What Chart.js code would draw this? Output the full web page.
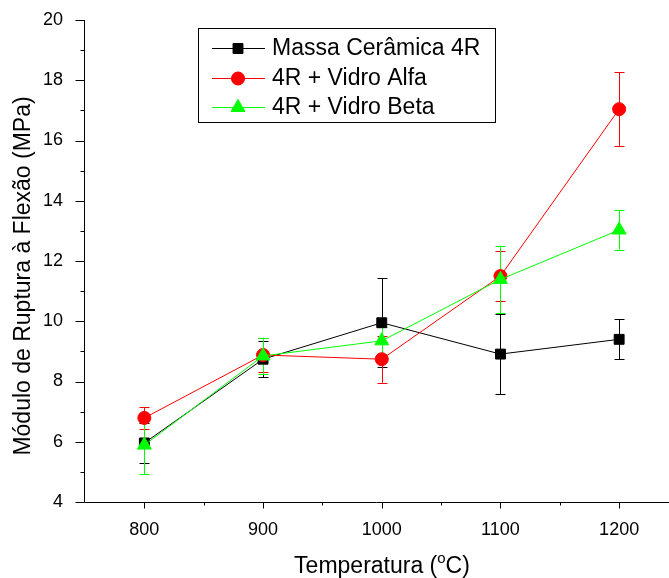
<!DOCTYPE html>
<html>
<head>
<meta charset="utf-8">
<script src="https://cdn.jsdelivr.net/npm/chart.js@4/dist/chart.umd.min.js"></script>
<style>
html,body{margin:0;padding:0;background:#fff;overflow:hidden;}
#wrap{width:669px;height:578px;}
</style>
</head>
<body>
<div id="wrap"><canvas id="c" width="669" height="578"></canvas></div>
<script>
const categories = [800, 900, 1000, 1100, 1200];
const massaValues = [5.96, 8.74, 9.95, 8.91, 9.40];
const massaErrors = [0.67, 0.60, 1.48, 1.33, 0.66];
const alfaValues = [6.79, 8.88, 8.74, 11.50, 17.04];
const alfaErrors = [0.36, 0.57, 0.78, 0.82, 1.22];
const betaValues = [5.89, 8.85, 9.35, 11.39, 13.03];
const betaErrors = [0.96, 0.60, 0.45, 1.12, 0.65];
const seriesLabels = ['Massa Cerâmica 4R', '4R + Vidro Alfa', '4R + Vidro Beta'];
const yTickValues = [4, 6, 8, 10, 12, 14, 16, 18, 20];
const yMinorValues = [5, 7, 9, 11, 13, 15, 17, 19];
const xMinorValues = [850, 950, 1050, 1150];
const xTitle = ['Temperatura (', 'o', 'C)'];
const yTitle = 'Módulo de Ruptura à Flexão (MPa)';

const FONT = '"Liberation Sans", Arial, sans-serif';
Chart.defaults.font.family = FONT;

function pts(vals){ return categories.map((x,i)=>({x:x,y:vals[i]})); }

const styles = [
  {color:'#000000', style:'rect', r:7},
  {color:'#ff0000', style:'circle', r:6.5},
  {color:'#00ff00', style:'triangle', r:8}
];
const errs = [massaErrors, alfaErrors, betaErrors];

const datasets = [massaValues, alfaValues, betaValues].map((v,i)=>({
  label: seriesLabels[i],
  data: pts(v),
  borderColor: styles[i].color,
  backgroundColor: styles[i].color,
  pointBackgroundColor: styles[i].color,
  pointBorderColor: styles[i].color,
  pointStyle: styles[i].style,
  pointRadius: styles[i].r,
  pointHoverRadius: styles[i].r,
  pointBorderWidth: 1,
  borderWidth: 1,
  tension: 0,
  fill: false,
  clip: false,
  order: 3 - i
}));

const errPlugin = {
  id: 'errbars',
  beforeDatasetsDraw(chart){
    const ctx = chart.ctx, xs = chart.scales.x, ys = chart.scales.y;
    ctx.save();
    ctx.lineWidth = 1;
    [0,1,2].forEach(i=>{
      ctx.strokeStyle = styles[i].color;
      chart.data.datasets[i].data.forEach((p,j)=>{
        const px = Math.round(xs.getPixelForValue(p.x)) + 0.5;
        const top = ys.getPixelForValue(p.y + errs[i][j]);
        const bot = ys.getPixelForValue(p.y - errs[i][j]);
        ctx.beginPath();
        ctx.moveTo(px, top); ctx.lineTo(px, bot);
        ctx.moveTo(px-5, Math.round(top)+0.5); ctx.lineTo(px+5, Math.round(top)+0.5);
        ctx.moveTo(px-5, Math.round(bot)+0.5); ctx.lineTo(px+5, Math.round(bot)+0.5);
        ctx.stroke();
      });
    });
    ctx.restore();
  }
};

const axesPlugin = {
  id: 'axesDeco',
  afterDraw(chart){
    const ctx = chart.ctx, xs = chart.scales.x, ys = chart.scales.y, a = chart.chartArea;
    ctx.save();
    ctx.strokeStyle = '#000'; ctx.lineWidth = 1;
    const L = Math.round(a.left) - 0.5, B = Math.round(a.bottom) + 0.5;
    ctx.beginPath();
    ctx.moveTo(L, a.top); ctx.lineTo(L, B);
    ctx.moveTo(L, B); ctx.lineTo(a.right, B);
    yTickValues.forEach(v=>{ const y = Math.round(ys.getPixelForValue(v))+0.5; ctx.moveTo(L-9, y); ctx.lineTo(L, y); });
    yMinorValues.forEach(v=>{ const y = Math.round(ys.getPixelForValue(v))+0.5; ctx.moveTo(L-4, y); ctx.lineTo(L, y); });
    categories.forEach(v=>{ const x = Math.round(xs.getPixelForValue(v))+0.5; ctx.moveTo(x, B); ctx.lineTo(x, B+6); });
    xMinorValues.forEach(v=>{ const x = Math.round(xs.getPixelForValue(v))+0.5; ctx.moveTo(x, B); ctx.lineTo(x, B+3); });
    ctx.stroke();

    // axis titles
    ctx.fillStyle = '#000';
    ctx.textBaseline = 'alphabetic';
    const f = '23px ' + FONT, fs = '15px ' + FONT;
    ctx.font = f;
    const w0 = ctx.measureText(xTitle[0]).width, w2 = ctx.measureText(xTitle[2]).width;
    ctx.font = fs;
    const w1 = ctx.measureText(xTitle[1]).width;
    const total = w0 + w1 + w2;
    let x0 = 382 - total/2;
    const by = 573;
    ctx.font = f; ctx.textAlign = 'left';
    ctx.fillText(xTitle[0], x0, by);
    ctx.font = fs; ctx.fillText(xTitle[1], x0 + w0, by - 10);
    ctx.font = f; ctx.fillText(xTitle[2], x0 + w0 + w1, by);

    ctx.save();
    ctx.translate(30, 276);
    ctx.rotate(-Math.PI/2);
    ctx.textAlign = 'center';
    ctx.font = f;
    ctx.fillText(yTitle, 0, 0);
    ctx.restore();

    // legend
    const bx = 198.5, byy = 28.5, bw = 297, bh = 94;
    ctx.strokeStyle = '#000';
    ctx.strokeRect(bx, byy, bw, bh);
    const rows = [48, 78, 107];
    chart.data.datasets.forEach((ds, i)=>{
      const y = rows[i];
      ctx.strokeStyle = ds.borderColor; ctx.lineWidth = 1;
      ctx.beginPath(); ctx.moveTo(212, y+0.5); ctx.lineTo(265, y+0.5); ctx.stroke();
      ctx.fillStyle = ds.pointBackgroundColor;
      Chart.helpers.drawPoint(ctx, {pointStyle: ds.pointStyle, radius: ds.pointRadius, borderWidth: 1}, 238, y+0.5);
      ctx.fill();
      ctx.fillStyle = '#000';
      ctx.font = f; ctx.textAlign = 'left'; ctx.textBaseline = 'middle';
      ctx.fillText(ds.label, 272, y + 1);
    });
    ctx.restore();
  }
};

new Chart(document.getElementById('c'), {
  type: 'line',
  data: { datasets: datasets },
  options: {
    responsive: false,
    animation: false,
    layout: { autoPadding: false, padding: { top: 20, right: 0, left: 0, bottom: 0 } },
    plugins: { legend: { display: false }, tooltip: { enabled: false } },
    scales: {
      x: {
        type: 'linear', min: 750, max: 1242,
        afterBuildTicks: s => { s.ticks = categories.map(v=>({value:v})); },
        afterFit: s => { s.height = 76; s.paddingLeft = 0; s.paddingRight = 0; },
        grid: { display: false }, border: { display: false },
        ticks: { color: '#000', font: { size: 18 }, padding: 9, maxRotation: 0, callback: v => String(v) }
      },
      y: {
        type: 'linear', min: 4, max: 20,
        afterBuildTicks: s => { s.ticks = yTickValues.map(v=>({value:v})); },
        afterFit: s => { s.width = 85; s.paddingTop = 0; s.paddingBottom = 0; },
        grid: { display: false }, border: { display: false },
        ticks: { color: '#000', font: { size: 18 }, padding: 14, callback: v => String(v) }
      }
    }
  },
  plugins: [errPlugin, axesPlugin]
});
</script>
</body>
</html>
